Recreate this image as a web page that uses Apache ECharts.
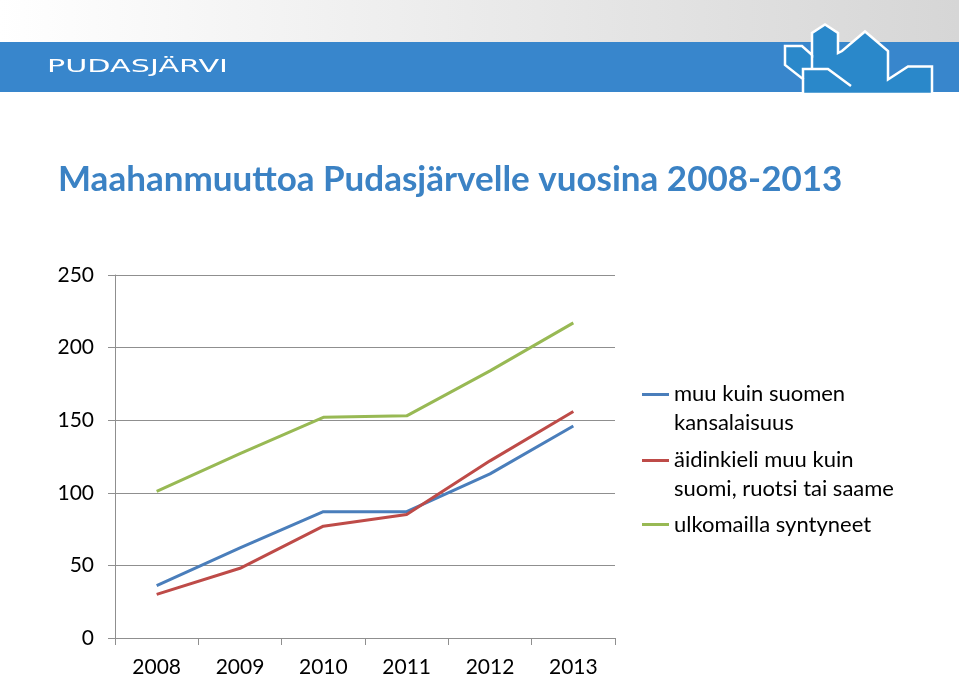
<!DOCTYPE html>
<html>
<head>
<meta charset="utf-8">
<script src="https://cdn.jsdelivr.net/npm/echarts@6/dist/echarts.min.js"></script>
<style>html,body{margin:0;padding:0;background:#fff}#c{width:959px;height:678px}</style>
</head>
<body>
<div id="c"></div>
<script>
const titleText = 'Maahanmuuttoa Pudasjärvelle vuosina 2008-2013';
const years = ['2008', '2009', '2010', '2011', '2012', '2013'];
const seriesNames = ['muu kuin suomen\nkansalaisuus', 'äidinkieli muu kuin\nsuomi, ruotsi tai saame', 'ulkomailla syntyneet'];
const citizenship = [36, 62, 87, 87, 113, 146];
const motherTongue = [30, 48, 77, 85, 122, 156];
const bornAbroad = [101, 127, 152, 153, 184, 217];
const yTicks = [0, 50, 100, 150, 200, 250];

const FONT = 'Lato, "Noto Sans", sans-serif';
const colors = ['#4a7ebb', '#be4b48', '#98b954'];
const gridColor = '#8f8f8f';

const chart = echarts.init(document.getElementById('c'), null, {renderer: 'canvas'});

const twoLineIcon = 'path://M0,0H27V3H0Z M0,30H0.01V30.01H0Z';
const oneLineIcon = 'path://M0,0H27V3H0Z';
function legendAt(name, top, icon, h) {
  return {
    data: [name],
    left: 642, top: top, orient: 'vertical', padding: 0,
    icon: icon, itemWidth: 27, itemHeight: h,
    itemStyle: {borderWidth: 0},
    textStyle: {fontFamily: FONT, fontSize: 22, color: '#000', lineHeight: 29},
    selectedMode: false
  };
}

const option = {
  backgroundColor: '#fff',
  animation: false,
  title: {
    text: titleText, left: 53, top: 157,
    textStyle: {fontFamily: FONT, fontSize: 35, fontWeight: 'bold', color: '#3b82c4'}
  },
  legend: [
    legendAt(seriesNames[0], 379, twoLineIcon, 30),
    legendAt(seriesNames[1], 445, twoLineIcon, 30),
    legendAt(seriesNames[2], 510, oneLineIcon, 3)
  ],
  grid: {left: 115, right: 344, top: 275, bottom: 39, containLabel: false},
  xAxis: {
    type: 'category', data: years, boundaryGap: true,
    axisLine: {show: true, lineStyle: {color: gridColor, width: 1}},
    axisTick: {show: true, length: 7, interval: 0, lineStyle: {color: gridColor}},
    axisLabel: {fontFamily: FONT, fontSize: 21, color: '#000', margin: 19, interval: 0}
  },
  yAxis: {
    type: 'value', min: yTicks[0], max: yTicks[yTicks.length - 1], interval: 50,
    axisLine: {show: true, lineStyle: {color: gridColor, width: 1}},
    axisTick: {show: true, length: 7, lineStyle: {color: gridColor}},
    splitLine: {show: true, lineStyle: {color: gridColor, width: 1}},
    axisLabel: {fontFamily: FONT, fontSize: 21, color: '#000', margin: 21}
  },
  series: [
    {name: seriesNames[0], type: 'line', data: citizenship, showSymbol: false, symbol: 'none', lineStyle: {color: colors[0], width: 3}, itemStyle: {color: colors[0]}, z: 3},
    {name: seriesNames[1], type: 'line', data: motherTongue, showSymbol: false, symbol: 'none', lineStyle: {color: colors[1], width: 3}, itemStyle: {color: colors[1]}, z: 4},
    {name: seriesNames[2], type: 'line', data: bornAbroad, showSymbol: false, symbol: 'none', lineStyle: {color: colors[2], width: 3}, itemStyle: {color: colors[2]}, z: 2}
  ],
  graphic: [
    {type: 'rect', shape: {x: 0, y: 0, width: 959, height: 42}, silent: true, z: -10,
     style: {fill: new echarts.graphic.LinearGradient(0, 0, 1, 0, [{offset: 0, color: '#ffffff'}, {offset: 1, color: '#d6d6d6'}])}},
    {type: 'rect', shape: {x: 0, y: 42, width: 959, height: 50}, silent: true, z: -9,
     style: {fill: '#3886cc'}},
    {type: 'text', x: 47, y: 67, scaleX: 1.68, silent: true, z: 5,
     style: {text: 'PUDASJÄRVI', fill: '#fff', font: '18px "DejaVu Sans", sans-serif', textVerticalAlign: 'middle'}},
    {type: 'polygon', silent: true, z: 5,
     shape: {points: [[803, 94], [803, 79], [785, 65], [785, 46], [802, 46], [812, 55], [812, 33], [825, 24.5], [838, 33], [838, 53], [842, 51], [865, 31.5], [888, 51], [888, 79.5], [908, 66.5], [932, 66.5], [932, 94]]},
     style: {fill: '#2a88ca', stroke: '#fff', lineWidth: 2.5, lineJoin: 'miter'}},
    {type: 'polyline', silent: true, z: 6,
     shape: {points: [[803, 79], [803, 69], [828, 69], [851, 86]]},
     style: {fill: null, stroke: '#fff', lineWidth: 2.5}},
    {type: 'polyline', silent: true, z: 6,
     shape: {points: [[812, 55], [812, 68]]},
     style: {fill: null, stroke: '#fff', lineWidth: 2.5}}
  ]
};
chart.setOption(option);
</script>
</body>
</html>
